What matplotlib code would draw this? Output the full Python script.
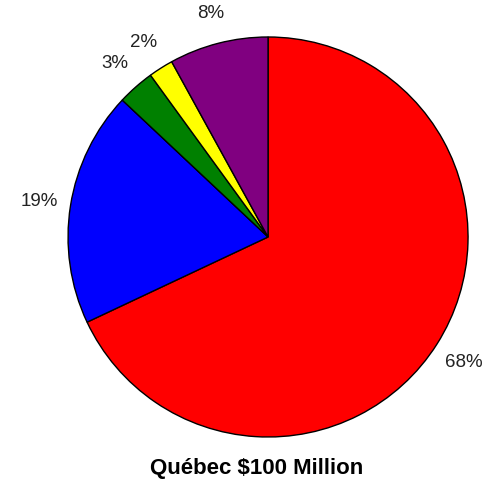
import matplotlib
matplotlib.use('Agg')
import matplotlib.pyplot as plt

shares=[68,19,3,2,8]
colors=['#ff0000','#0000ff','#008000','#ffff00','#800080']
title='Québec $100 Million'

plt.rcParams['font.family']=['Liberation Sans','DejaVu Sans']

fig=plt.figure(figsize=(4.93,4.89),dpi=100)
ax=fig.add_axes([0.138,0.1043,0.8114,0.818])
wedges,texts,autotexts=ax.pie(shares,colors=colors,startangle=90,counterclock=False,
    autopct=lambda p:f'{p:.0f}%',pctdistance=1.16,
    wedgeprops=dict(edgecolor='black',linewidth=1))
for t in autotexts:
    t.set_fontsize(13.5)
    t.set_color('#222222')
ax.set_xlim(-1,1); ax.set_ylim(-1,1)
ax.set_aspect('equal')
fig.text(0.52,0.042,title,ha='center',va='center',fontsize=16,fontweight='bold')
fig.savefig('out.png',dpi=100)
